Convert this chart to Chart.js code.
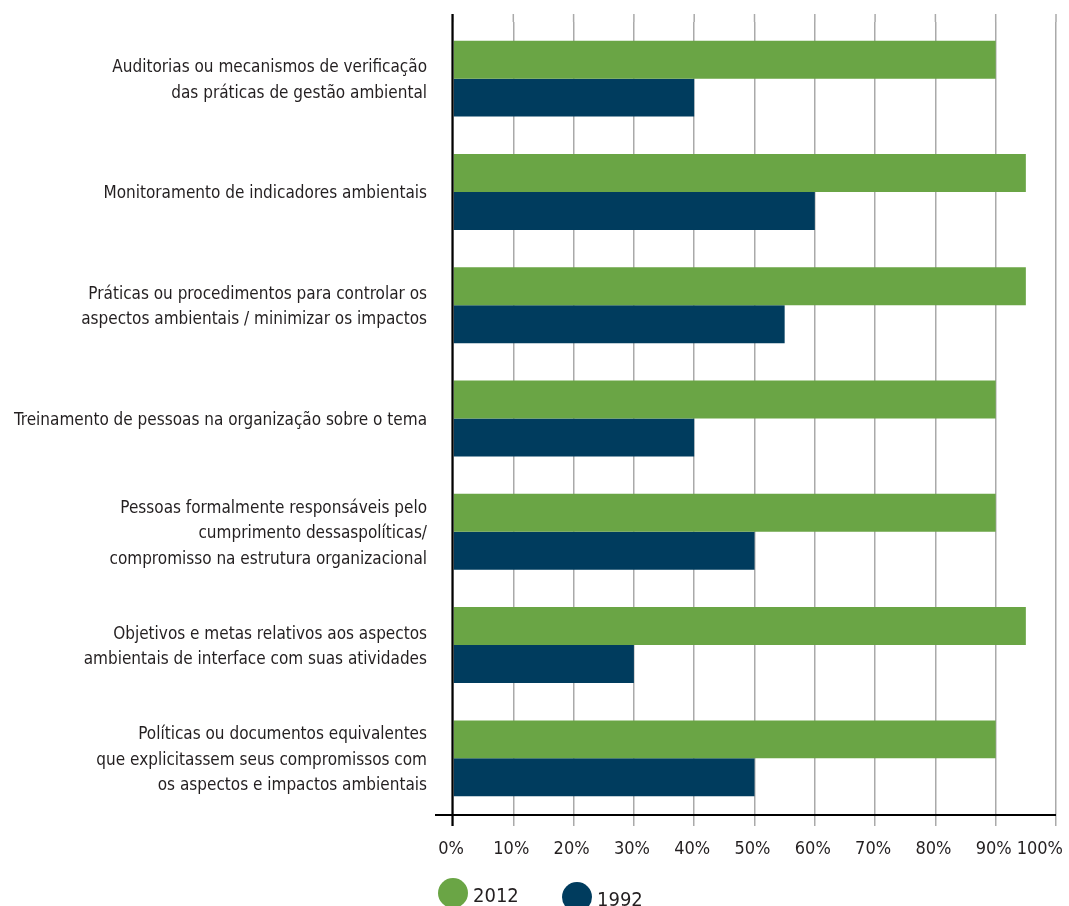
<!DOCTYPE html>
<html>
<head>
<meta charset="utf-8">
<script src="https://cdn.jsdelivr.net/npm/chart.js@4/dist/chart.umd.min.js"></script>
<style>
  html, body { margin: 0; padding: 0; background: #fff; }
  #wrap { width: 1069px; height: 906px; }
</style>
</head>
<body>
<div id="wrap"><canvas id="practicesChart" width="1069" height="906"></canvas></div>
<script>
// Categories (top to bottom) and series values (%)
const categories = [
    ['Auditorias ou mecanismos de verificação', 'das práticas de gestão ambiental'],
    'Monitoramento de indicadores ambientais',
    ['Práticas ou procedimentos para controlar os', 'aspectos ambientais / minimizar os impactos'],
    'Treinamento de pessoas na organização sobre o tema',
    ['Pessoas formalmente responsáveis pelo', 'cumprimento dessaspolíticas/', 'compromisso na estrutura organizacional'],
    ['Objetivos e metas relativos aos aspectos', 'ambientais de interface com suas atividades'],
    ['Políticas ou documentos equivalentes', 'que explicitassem seus compromissos com', 'os aspectos e impactos ambientais']
];
const values2012 = [90, 95, 95, 90, 90, 95, 90];
const values1992 = [40, 60, 55, 40, 50, 30, 50];
const seriesLabels = ['2012', '1992'];
const seriesColors = ['#6aa545', '#003c5e'];
const xTicks = [0, 10, 20, 30, 40, 50, 60, 70, 80, 90, 100];

const FONT = "'Liberation Sans Narrow', 'DejaVu Sans Condensed', 'Open Sans', sans-serif";
const TEXT = '#231f20';

// Extra drawing: gridline stubs above the plot, black axes, x labels, legend
const decorPlugin = {
    id: 'decor',
    beforeDatasetsDraw(chart) {
        const ctx = chart.ctx;
        const area = chart.chartArea;
        const xs = chart.scales.x;
        ctx.save();
        ctx.strokeStyle = '#aaaaaa';
        ctx.lineWidth = 1.5;
        xTicks.forEach(t => {
            const px = xs.getPixelForValue(t);
            ctx.beginPath();
            ctx.moveTo(px, 14);
            ctx.lineTo(px, area.top);
            ctx.stroke();
        });
        ctx.restore();
    },
    afterDatasetsDraw(chart) {
        const ctx = chart.ctx;
        const area = chart.chartArea;
        ctx.save();
        ctx.strokeStyle = '#000';
        ctx.lineWidth = 2.2;
        // x axis line, reaching a bit left of the y axis
        ctx.beginPath();
        ctx.moveTo(435, area.bottom);
        ctx.lineTo(area.right, area.bottom);
        ctx.stroke();
        // y axis line
        ctx.beginPath();
        ctx.moveTo(area.left - 0.5, 14);
        ctx.lineTo(area.left - 0.5, area.bottom + 11);
        ctx.stroke();
        ctx.restore();
    },
    afterDraw(chart) {
        const ctx = chart.ctx;
        const area = chart.chartArea;
        const xs = chart.scales.x;
        ctx.save();
        ctx.fillStyle = TEXT;
        ctx.font = '18px ' + FONT;
        ctx.textBaseline = 'middle';
        xTicks.forEach(t => {
            const label = t + '%';
            const px = xs.getPixelForValue(t);
            const w = ctx.measureText(label).width;
            let left = px - w / 2;
            if (left + w > chart.width - 4) left = chart.width - 4 - w;
            ctx.textAlign = 'left';
            ctx.fillText(label, left - 2, area.bottom + 34);
        });

        // legend
        const legendY = 893;
        const items = [
            { cx: area.left, text: seriesLabels[0], color: seriesColors[0] },
            { cx: area.left + 124, text: seriesLabels[1], color: seriesColors[1] }
        ];
        ctx.font = '20px ' + FONT;
        items.forEach((it, i) => {
            ctx.fillStyle = it.color;
            ctx.beginPath();
            ctx.arc(it.cx, legendY + i * 4, 15, 0, Math.PI * 2);
            ctx.fill();
            ctx.fillStyle = TEXT;
            ctx.textAlign = 'left';
            ctx.fillText(it.text, it.cx + 20, legendY + 4 + i * 4);
        });
        ctx.restore();
    }
};

const ctx = document.getElementById('practicesChart');
const practicesChart = new Chart(ctx, {
    type: 'bar',
    data: {
        labels: categories,
        datasets: [
            {
                label: seriesLabels[0],
                data: values2012,
                backgroundColor: seriesColors[0],
                borderWidth: 0
            },
            {
                label: seriesLabels[1],
                data: values1992,
                backgroundColor: seriesColors[1],
                borderWidth: 0
            }
        ]
    },
    options: {
        indexAxis: 'y',
        responsive: false,
        animation: false,
        maintainAspectRatio: false,
        layout: {
            padding: { top: 22, right: 13, left: 0, bottom: 0 }
        },
        datasets: {
            bar: {
                categoryPercentage: 0.67,
                barPercentage: 1.0
            }
        },
        plugins: {
            legend: { display: false },
            tooltip: { enabled: false }
        },
        scales: {
            x: {
                min: 0,
                max: 100,
                afterBuildTicks(scale) {
                    scale.ticks = xTicks.map(v => ({ value: v }));
                },
                afterFit(scale) {
                    scale.height = 91;
                    scale.paddingLeft = 0;
                    scale.paddingRight = 0;
                },
                grid: {
                    color: '#aaaaaa',
                    lineWidth: 1.5,
                    drawTicks: true,
                    tickLength: 11
                },
                border: { display: false },
                ticks: { display: false }
            },
            y: {
                afterFit(scale) {
                    scale.width = 453;
                    scale.paddingTop = 0;
                    scale.paddingBottom = 0;
                },
                grid: { display: false, drawTicks: false },
                border: { display: false },
                ticks: {
                    padding: 26,
                    labelOffset: 2,
                    color: TEXT,
                    autoSkip: false,
                    font: { family: FONT, size: 17, lineHeight: '25.5px' }
                }
            }
        }
    },
    plugins: [decorPlugin]
});
</script>
</body>
</html>
